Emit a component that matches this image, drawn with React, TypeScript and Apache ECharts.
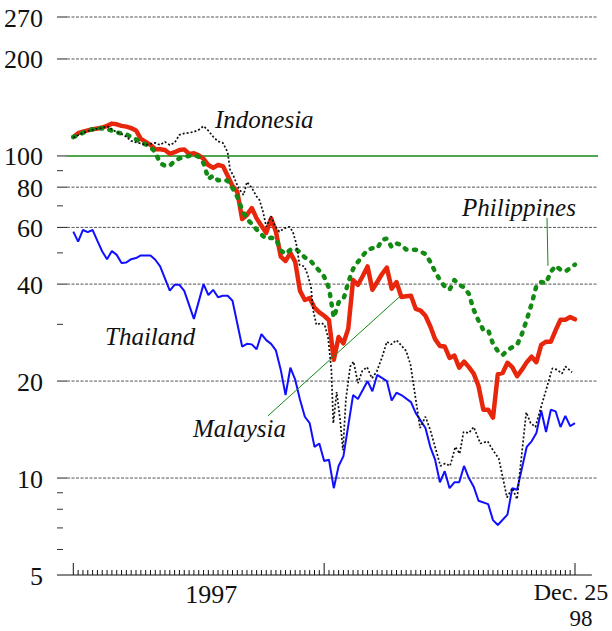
import React, { useEffect, useRef } from 'react';
import * as echarts from 'echarts';

// ---------- axes ----------
const X_MIN = -3.38;
const X_MAX = 108.77;
const X_AXIS_END = 107.5;
const Y_MIN = 5;
const Y_MAX = 270;

const Y_TICKS = [5, 10, 20, 40, 60, 80, 100, 200, 270];
const Y_MINOR_TICKS = [6, 7, 8, 9, 30, 50, 70, 90];
const X_TICK_WEEKS = Array.from({ length: 105 }, (_, i) => i);
const X_MAJOR_WEEKS = [0, 52, 104];
const X_LABEL_WEEKS = [28.6, 104];
const X_LABEL_LINES = [['1997'], ['Dec. 25', '98']];

// ---------- data (weeks since start of 1997, index = 1 week) ----------
const MALAYSIA = [
  114.4, 117.7, 119, 120, 121, 121.7, 122.5, 124, 126, 125.4,
  124, 123.3, 122, 120, 113, 110.6, 108.2, 104.9, 104.9, 104.4,
  101.5, 102.7, 104.4, 104.8, 101.5, 102, 100.4, 98, 93.7, 91.8,
  93.7, 93, 86.8, 80.7, 77.4, 63.7, 65.6, 68.9, 64, 60.7,
  57.7, 64, 58.2, 48.7, 47.2, 50, 46.9, 38.1, 35.7, 36.2,
  33.8, 32.7, 31.9, 30.9, 23.3, 27.4, 26.2, 29.1, 41.2, 39.8,
  42.4, 45.4, 38.4, 40.6, 43, 45, 38.7, 40.6, 36.5, 36.7,
  36.8, 33.5, 33.1, 31.9, 29.6, 27, 25.7, 25.6, 23.6, 24,
  22, 23, 22.1, 21.1, 19.3, 16.3, 16.3, 15.4, 21, 21.2,
  22.8, 22.1, 20.7, 21.7, 22.9, 23.8, 22.9, 25.9, 26.5, 26.5,
  28.8, 31, 31, 31.6, 31.1,
];

const PHILIPPINES = [
  114.6, 115.8, 118, 119.8, 121, 122.3, 121.6, 121.2, 119.8, 118.2,
  117.5, 116.7, 114.5, 112.6, 110.2, 108.6, 106.6, 102.7, 95, 93.2,
  93.2, 96.5, 98.2, 99.3, 100, 100.8, 99.3, 95, 84.9, 86.8,
  84, 84.3, 83.7, 79.6, 74.6, 68, 63.7, 61.5, 59.1, 57,
  55.3, 55.7, 55.3, 50.9, 49.6, 51.1, 51.6, 50.2, 48.4, 47.6,
  45.7, 44, 42.2, 38.9, 31.5, 35.1, 35.9, 40.5, 44.6, 46.9,
  49, 51.1, 51.7, 51.6, 54.9, 55.4, 52.1, 53.5, 52.9, 51.2,
  51.1, 51.1, 50.4, 49.6, 46.9, 43.7, 41.2, 39.3, 38.4, 41.2,
  39.8, 39.1, 37.3, 33.3, 30.8, 28.8, 28.8, 26.1, 24.8, 24.1,
  24.9, 25.5, 25.9, 28, 31, 34.7, 39.5, 40.6, 40.3, 43.7,
  45.6, 44.3, 43.8, 44.8, 46,
];

const THAILAND = [
  [0, 58.2], [1, 54.2], [2, 58.9], [3, 58.0], [4, 58.9], [5, 54.5], [6, 50.5], [7, 47.8],
  [8, 50.7], [9, 49.3], [10, 46.5], [11, 46.7], [12, 47.8], [13, 48.2], [14, 49.1], [15, 49.1],
  [16, 49.1], [17, 47.6], [18, 45.4], [20, 38.2], [21, 39.8], [22, 39.8], [23, 38.1], [25, 31.2],
  [27, 40.0], [28, 37.0], [29, 38.4], [30, 36.4], [31, 36.8], [32, 36.8], [33, 35.5], [35, 25.6],
  [36, 26.1], [37, 26.0], [38, 25.1], [39, 28.0], [40, 26.8], [41, 26.1], [42, 24.9], [43, 21.7],
  [44, 18.1], [45, 22.0], [46, 20.2], [47, 17.5], [48, 15.5], [49, 14.8], [50, 12.5], [51, 12.8],
  [52, 11.3], [53, 11.4], [54, 9.3], [55, 10.9], [56, 11.7], [58, 18.1], [59, 17.6], [61, 20.0],
  [62, 18.6], [63, 20.9], [65, 20.0], [66, 17.4], [67, 18.4], [68, 18.1], [70, 17.2], [71, 15.9],
  [73, 14.3], [74, 12.5], [75, 11.4], [76, 9.7], [77, 10.5], [78, 9.3], [79, 9.7], [80, 9.7],
  [81, 10.9], [82, 10.0], [83, 9.4], [84, 8.5], [86, 8.3], [87, 7.4], [88, 7.15], [90, 7.7],
  [91, 9.3], [92, 9.2], [94, 12.5], [95, 13.0], [96, 13.8], [97, 16.2], [98, 13.9], [99, 16.3],
  [100, 16.1], [101, 14.4], [102, 15.6], [103, 14.5], [104, 14.8],
];

const INDONESIA = [
  [0, 114], [1, 116], [2, 118], [3, 119.5], [4, 120.5], [5, 121.5], [6, 122], [7, 123.8],
  [8, 121], [9, 118.6], [10, 117], [11, 114.7], [12, 111.4], [13, 110.2], [14, 109.4], [15, 108.2],
  [16, 109], [17, 109.8], [18, 108.2], [19, 110.6], [20, 108.2], [21, 109.8], [22, 116.3], [23, 117.5],
  [24, 118], [25, 118.8], [26, 120.5], [27, 123.8], [28, 119.8], [29, 114.7], [30, 111], [31, 109.8],
  [32, 102.7], [32.5, 90.5], [33.2, 86.8], [34.2, 79.6], [35.3, 75.7], [36, 83], [37, 79.6], [37.9, 75.2],
  [38.6, 73], [39.3, 67.3], [40, 60.3], [41, 65], [41.7, 61.1], [42.7, 58.2], [43.8, 59.6], [44.8, 60.3],
  [45.5, 58.2], [46.2, 53.6], [46.9, 45.9], [47.9, 45.4], [48.6, 42.7], [49.3, 38.9], [49.7, 33.3], [50.4, 29.9],
  [51.4, 30.3], [52.1, 29.9], [52.8, 27.4], [53.5, 21.7], [53.9, 14.8], [54.6, 18.5], [55.3, 15.2], [55.9, 12.2],
  [56.5, 17.5], [57.4, 22.2], [58.1, 23], [59, 19.7], [59.9, 21.5], [60.9, 22.1], [61.9, 20.4], [62.9, 21.4],
  [64, 23.7], [65, 26.5], [65.9, 26], [67, 26.8], [68, 25.8], [69, 24.8], [69.9, 22.5], [70.9, 17.9],
  [71.9, 14.3], [73, 15.5], [74, 14.1], [75.4, 11.9], [76.1, 10.9], [77.1, 11.1], [78.1, 10.9], [79.2, 12.5],
  [80.1, 11.9], [80.9, 13.9], [82, 13.8], [83, 14.4], [84.4, 12.8], [85.9, 13], [87, 12.2], [88.2, 11.5],
  [89.9, 8.7], [91, 9.3], [92, 8.6], [92.7, 10.9], [93.9, 16], [94.8, 14.8], [95.8, 14.4], [96.8, 16.3],
  [98.2, 19.2], [99.3, 21.9], [100.3, 21.7], [101.3, 21.1], [102, 22.2], [103.4, 21.3],
];

// leader lines for the labels, in data space [week, value]
const MALAYSIA_LEADER = [[40.36, 15.6], [67.5, 36.4]];
const PHILIPPINES_LEADER = [[98.2, 64.2], [98.4, 45.6]];

const SERIF = 'Liberation Serif';
const GREEN = '#138a13';

function txt(text: string, x: number, y: number, align: string, size = 26) {
  return {
    type: 'text',
    style: {
      text, x, y,
      fontFamily: SERIF, fontSize: size, fill: '#111',
      textAlign: align, align,
      textVerticalAlign: 'middle', verticalAlign: 'middle',
    },
  };
}

function renderYGrid(params: any, api: any) {
  const v = api.value(1);
  const p0 = api.coord([X_MIN, v]);
  const p1 = api.coord([X_MAX, v]);
  const children: any[] = [txt(String(v), p0[0] - 14, p0[1] + 1, 'right')];
  if (v !== Y_MIN) {
    children.push({
      type: 'line',
      shape: { x1: p0[0], y1: p0[1], x2: p0[0] + 10, y2: p0[1] },
      style: { stroke: '#222', lineWidth: 1 },
    });
    if (v === 100) {
      children.push({
        type: 'line',
        shape: { x1: p0[0] + 10, y1: p0[1], x2: p1[0], y2: p1[1] },
        style: { stroke: GREEN, lineWidth: 1.5 },
      });
    } else {
      children.push({
        type: 'line',
        shape: { x1: p0[0] + 10, y1: p0[1], x2: p1[0], y2: p1[1] },
        style: { stroke: '#555', lineWidth: 1, lineDash: [3, 1.5] },
      });
    }
  }
  return { type: 'group', children };
}

function renderYMinor(params: any, api: any) {
  const v = api.value(1);
  const p0 = api.coord([X_MIN, v]);
  return {
    type: 'line',
    shape: { x1: p0[0], y1: p0[1], x2: p0[0] + 6, y2: p0[1] },
    style: { stroke: '#333', lineWidth: 1 },
  };
}

function renderXTicks(params: any, api: any) {
  const w = api.value(0);
  const p = api.coord([w, Y_MIN]);
  const len = X_MAJOR_WEEKS.indexOf(w) >= 0 ? 12 : 5;
  const children: any[] = [{
    type: 'line',
    shape: { x1: p[0], y1: p[1], x2: p[0], y2: p[1] - len },
    style: { stroke: '#111', lineWidth: 1 },
  }];
  if (params.dataIndex === 0) {
    const a = api.coord([X_MIN, Y_MIN]);
    const b = api.coord([X_AXIS_END, Y_MIN]);
    children.push({
      type: 'line',
      shape: { x1: a[0], y1: a[1], x2: b[0], y2: b[1] },
      style: { stroke: '#111', lineWidth: 1.2 },
    });
  }
  return { type: 'group', children };
}

function renderXLabels(params: any, api: any) {
  const w = api.value(0);
  const p = api.coord([w, Y_MIN]);
  const lines = X_LABEL_LINES[params.dataIndex];
  if (lines.length === 1) {
    return txt(lines[0], p[0], p[1] + 19.5, 'center');
  }
  return {
    type: 'group',
    children: [
      txt(lines[0], p[0] - 4, p[1] + 17, 'center', 24),
      txt(lines[1], p[0] + 6, p[1] + 43, 'center', 23),
    ],
  };
}

function leader(points: number[][]) {
  return {
    silent: true,
    symbol: ['none', 'none'],
    label: { show: false },
    lineStyle: { color: GREEN, width: 1, type: 'solid' },
    data: [[{ coord: points[0] }, { coord: points[1] }]],
  };
}

export default function App() {
  const ref = useRef<HTMLDivElement>(null);

  useEffect(() => {
    if (!ref.current) return;
    const chart = echarts.init(ref.current, null, { renderer: 'svg' });
    const italic = { fontFamily: SERIF, fontSize: 25, fontStyle: 'italic', fill: '#111' };
    chart.setOption({
      animation: false,
      grid: { left: 57, right: 14, top: 17, bottom: 56 },
      xAxis: { type: 'value', min: X_MIN, max: X_MAX, show: false },
      yAxis: { type: 'log', logBase: 10, min: Y_MIN, max: Y_MAX, show: false },
      graphic: [
        { type: 'text', left: 215, top: 107, style: { text: 'Indonesia', ...italic } },
        { type: 'text', left: 105, top: 324, style: { text: 'Thailand', ...italic } },
        { type: 'text', left: 193, top: 416, style: { text: 'Malaysia', ...italic } },
        { type: 'text', left: 462, top: 195, style: { text: 'Philippines', ...italic } },
      ],
      series: [
        {
          type: 'custom', name: 'yGrid', z: 1, silent: true, clip: false,
          renderItem: renderYGrid, encode: { x: 0, y: 1 },
          data: Y_TICKS.map((v) => [X_MIN, v]),
        },
        {
          type: 'custom', name: 'yMinor', z: 1, silent: true, clip: false,
          renderItem: renderYMinor, encode: { x: 0, y: 1 },
          data: Y_MINOR_TICKS.map((v) => [X_MIN, v]),
        },
        {
          type: 'custom', name: 'xTicks', z: 1, silent: true, clip: false,
          renderItem: renderXTicks, encode: { x: 0, y: 1 },
          data: X_TICK_WEEKS.map((w) => [w, Y_MIN]),
        },
        {
          type: 'custom', name: 'xLabels', z: 1, silent: true, clip: false,
          renderItem: renderXLabels, encode: { x: 0, y: 1 },
          data: X_LABEL_WEEKS.map((w) => [w, Y_MIN]),
        },
        {
          type: 'line', name: 'Thailand', z: 3, symbol: 'none', showSymbol: false,
          lineStyle: { color: '#1010ff', width: 2 },
          data: THAILAND,
        },
        {
          type: 'line', name: 'Malaysia', z: 4, symbol: 'none', showSymbol: false,
          lineStyle: { color: '#e8260c', width: 4.5, cap: 'round', join: 'round' },
          data: MALAYSIA.map((v, i) => [i, v]),
          markLine: leader(MALAYSIA_LEADER),
        },
        {
          type: 'line', name: 'Philippines', z: 5, symbol: 'none', showSymbol: false,
          lineStyle: { color: GREEN, width: 4.5, type: [2, 7.5], cap: 'round', join: 'round' },
          data: PHILIPPINES.map((v, i) => [i, v]),
          markLine: leader(PHILIPPINES_LEADER),
        },
        {
          type: 'line', name: 'Indonesia', z: 6, symbol: 'none', showSymbol: false,
          lineStyle: { color: '#111', width: 1.7, type: [2, 2] },
          data: INDONESIA,
        },
      ],
    });
    return () => chart.dispose();
  }, []);

  return (
    <div
      ref={ref}
      style={{ position: 'fixed', left: 0, top: 0, width: 612, height: 631, background: '#fff' }}
    />
  );
}
